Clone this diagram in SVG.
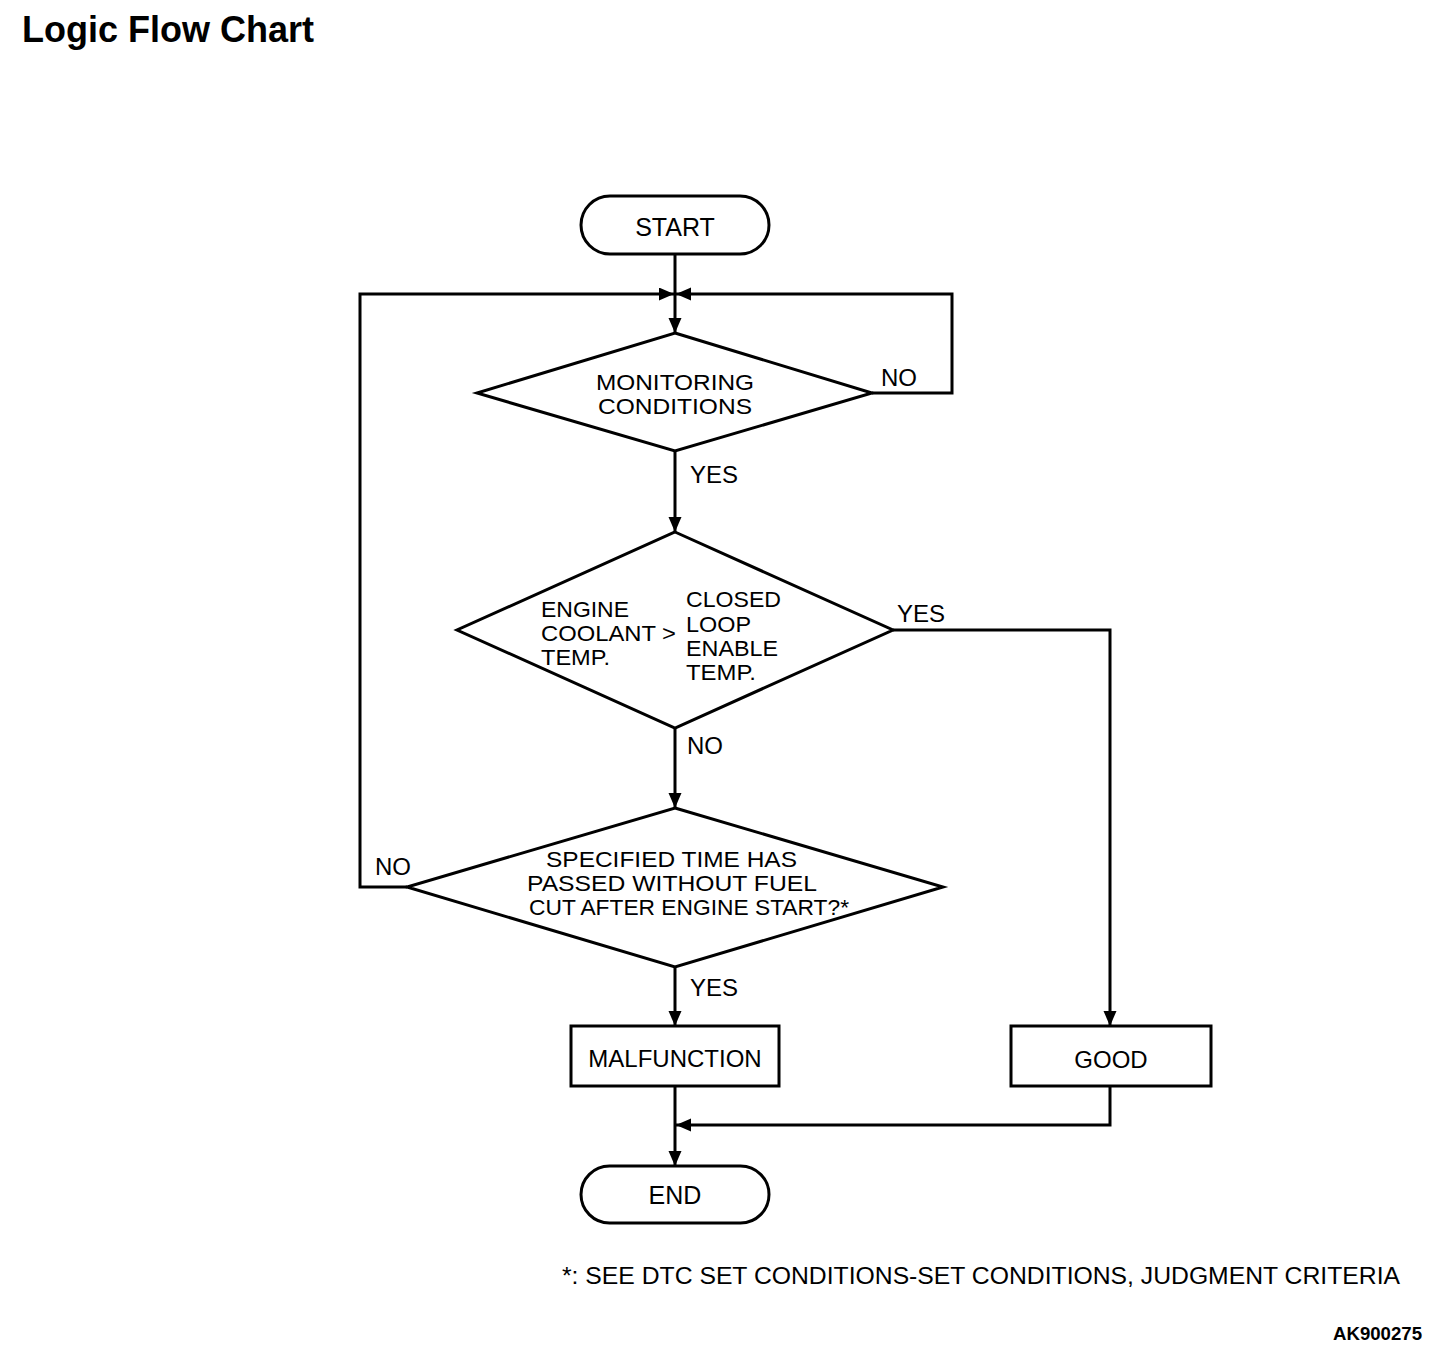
<svg xmlns="http://www.w3.org/2000/svg" width="1456" height="1356" viewBox="0 0 1456 1356">
<style>
.t{font-family:"Liberation Sans",Arial,sans-serif;font-size:24px;fill:#000}
.s{font-size:21.5px}
.m{text-anchor:middle}
.shape{fill:#fff;stroke:#000;stroke-width:3}
.ln{fill:none;stroke:#000;stroke-width:3}
</style>
<defs>
<marker id="ah" markerUnits="userSpaceOnUse" markerWidth="16" markerHeight="14" refX="15" refY="6.5" orient="auto">
<path d="M0,0 L15,6.5 L0,13 z" fill="#000"/>
</marker>
</defs>
<rect width="1456" height="1356" fill="#fff"/>
<text x="22" y="42" style="font-family:'Liberation Sans',Arial,sans-serif;font-size:36px;font-weight:bold">Logic Flow Chart</text>

<g id="connectors">
<path class="ln" d="M675,254 V333" marker-end="url(#ah)"/>
<path class="ln" d="M407,887 H360 V294 H674" marker-end="url(#ah)"/>
<path class="ln" d="M872,393 H952 V294 H676" marker-end="url(#ah)"/>
<path class="ln" d="M675,451 V532" marker-end="url(#ah)"/>
<path class="ln" d="M675,728 V808" marker-end="url(#ah)"/>
<path class="ln" d="M893,630 H1110 V1026" marker-end="url(#ah)"/>
<path class="ln" d="M675,967 V1026" marker-end="url(#ah)"/>
<path class="ln" d="M675,1086 V1166" marker-end="url(#ah)"/>
<path class="ln" d="M1110,1086 V1125 H676" marker-end="url(#ah)"/>
<text class="t" x="881" y="386">NO</text>
<text class="t" x="690" y="483">YES</text>
<text class="t" x="897" y="622">YES</text>
<text class="t" x="687" y="754">NO</text>
<text class="t" x="375" y="875">NO</text>
<text class="t" x="690" y="996">YES</text>
</g>

<g id="start">
<rect class="shape" x="581" y="196" width="188" height="58" rx="29"/>
<text class="t m" x="675" y="236" style="font-size:25px">START</text>
</g>

<g id="monitoring">
<polygon class="shape" points="675,333 872,393 675,451 477,393"/>
<text class="t s" x="596" y="390" textLength="158" lengthAdjust="spacingAndGlyphs">MONITORING</text>
<text class="t s" x="598" y="414" textLength="154" lengthAdjust="spacingAndGlyphs">CONDITIONS</text>
</g>

<g id="coolant">
<polygon class="shape" points="675,532 893,630 675,728 457,630"/>
<text class="t s" x="541" y="617" textLength="88" lengthAdjust="spacingAndGlyphs">ENGINE</text>
<text class="t s" x="541" y="641" textLength="135" lengthAdjust="spacingAndGlyphs">COOLANT &gt;</text>
<text class="t s" x="541" y="665" textLength="69" lengthAdjust="spacingAndGlyphs">TEMP.</text>
<text class="t s" x="686" y="607" textLength="95" lengthAdjust="spacingAndGlyphs">CLOSED</text>
<text class="t s" x="686" y="632" textLength="65" lengthAdjust="spacingAndGlyphs">LOOP</text>
<text class="t s" x="686" y="656" textLength="92" lengthAdjust="spacingAndGlyphs">ENABLE</text>
<text class="t s" x="686" y="680" textLength="70" lengthAdjust="spacingAndGlyphs">TEMP.</text>
</g>

<g id="time">
<polygon class="shape" points="675,808 943,887 675,967 407,887"/>
<text class="t s" x="546" y="867" textLength="251" lengthAdjust="spacingAndGlyphs">SPECIFIED TIME HAS</text>
<text class="t s" x="527" y="891" textLength="290" lengthAdjust="spacingAndGlyphs">PASSED WITHOUT FUEL</text>
<text class="t s" x="529" y="915" textLength="320" lengthAdjust="spacingAndGlyphs">CUT AFTER ENGINE START?*</text>
</g>

<g id="malfunction">
<rect class="shape" x="571" y="1026" width="208" height="60"/>
<text class="t m" x="675" y="1067">MALFUNCTION</text>
</g>

<g id="good">
<rect class="shape" x="1011" y="1026" width="200" height="60"/>
<text class="t m" x="1111" y="1068">GOOD</text>
</g>

<g id="end">
<rect class="shape" x="581" y="1166" width="188" height="57" rx="28.5"/>
<text class="t m" x="675" y="1204" style="font-size:25px">END</text>
</g>

<text class="t" x="562" y="1284" textLength="838" lengthAdjust="spacingAndGlyphs" style="font-size:23px">*: SEE DTC SET CONDITIONS-SET CONDITIONS, JUDGMENT CRITERIA</text>
<text x="1333" y="1340" textLength="89" lengthAdjust="spacingAndGlyphs" style="font-family:'Liberation Sans',Arial,sans-serif;font-size:18px;font-weight:bold">AK900275</text>
</svg>
